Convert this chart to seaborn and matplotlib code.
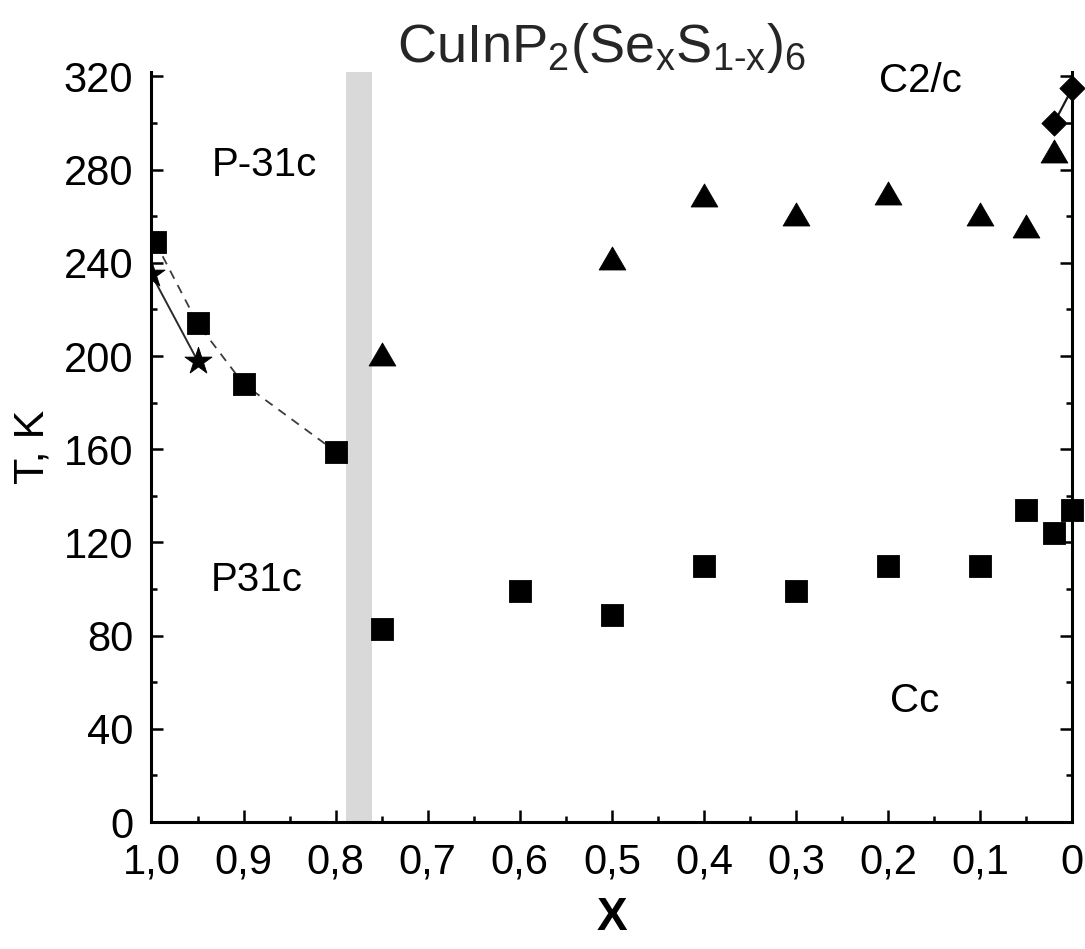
import numpy as np
import pandas as pd
import matplotlib
matplotlib.use("Agg")
import matplotlib.pyplot as plt
from matplotlib.markers import MarkerStyle
from matplotlib.path import Path
import seaborn as sns

# ---- data -------------------------------------------------------------
# P-31c -> P31c boundary (Se-rich side), squares joined by a dashed guide
x_sq_rich = [0.996, 0.95, 0.90, 0.80]
t_sq_rich = [249, 214, 188, 159]

# second estimate of the same boundary (stars, solid guide)
x_star = [1.0, 0.95]
t_star = [235, 198]

# C2/c -> Cc transition (triangles)
x_tri = [0.75, 0.50, 0.40, 0.30, 0.20, 0.10, 0.05, 0.02]
t_tri = [201, 242, 269, 261, 270, 261, 256, 288]

# low-temperature anomalies (squares, S-rich side)
x_sq_low = [0.75, 0.60, 0.50, 0.40, 0.30, 0.20, 0.10, 0.05, 0.02, 0.0]
t_sq_low = [83, 99, 89, 110, 99, 110, 110, 134, 124, 134]

# CuInP2S6 end member (diamonds, solid guide)
x_dia = [0.02, 0.0]
t_dia = [300, 315]

# two-phase region between the structures
band_x = [0.789, 0.761]

x_ticks = [1.0, 0.9, 0.8, 0.7, 0.6, 0.5, 0.4, 0.3, 0.2, 0.1, 0.0]
x_tick_labels = ["1,0", "0,9", "0,8", "0,7", "0,6", "0,5", "0,4", "0,3", "0,2", "0,1", "0"]
y_ticks = [0, 40, 80, 120, 160, 200, 240, 280, 320]

phase_labels = ["P-31c", "P31c", "C2/c", "Cc"]
phase_pos = [(0.877, 282), (0.886, 104), (0.165, 318), (0.171, 52)]

# ---- style ------------------------------------------------------------
sns.set_theme(style="ticks")
plt.rcParams["font.family"] = ["Liberation Sans", "DejaVu Sans"]
plt.rcParams["mathtext.fontset"] = "custom"
plt.rcParams["mathtext.rm"] = "Liberation Sans"
plt.rcParams["mathtext.default"] = "regular"

fig = plt.figure(figsize=(10.85, 9.49), dpi=100)
ax = fig.add_axes([0.1396, 0.1338, 0.8488, 0.7906])

ax.axvspan(band_x[0], band_x[1], color="#d9d9d9", lw=0, zorder=0)

# guide lines
sns.lineplot(x=x_sq_rich, y=t_sq_rich, ax=ax, sort=False, estimator=None,
             color="#3c3c3c", lw=1.3, linestyle=(0, (5, 4)), legend=False, zorder=1)
sns.lineplot(x=x_star, y=t_star, ax=ax, sort=False, estimator=None,
             color="#2a2a2a", lw=1.4, legend=False, zorder=1)
sns.lineplot(x=x_dia, y=t_dia, ax=ax, sort=False, estimator=None,
             color="#1a1a1a", lw=1.6, legend=False, zorder=1, clip_on=False)

# markers
tri_marker = MarkerStyle(Path([(-1, -0.86), (1, -0.86), (0, 0.86), (-1, -0.86)],
                              [Path.MOVETO, Path.LINETO, Path.LINETO, Path.CLOSEPOLY]))

sns.scatterplot(x=x_sq_rich, y=t_sq_rich, ax=ax, marker="s", s=235,
                color="black", edgecolor="black", linewidth=0.6, zorder=3)
sns.scatterplot(x=x_star, y=t_star, ax=ax, marker="*", s=420,
                color="black", edgecolor="black", linewidth=0.6, zorder=3)
sns.scatterplot(x=x_tri, y=t_tri, ax=ax, marker=tri_marker, s=370,
                color="black", edgecolor="black", linewidth=0.6, zorder=3,
                clip_on=False)
sns.scatterplot(x=x_sq_low, y=t_sq_low, ax=ax, marker="s", s=235,
                color="black", edgecolor="black", linewidth=0.6, zorder=3,
                clip_on=False)
sns.scatterplot(x=x_dia, y=t_dia, ax=ax, marker="D", s=165,
                color="black", edgecolor="black", linewidth=0.6, zorder=4,
                clip_on=False)

# ---- axes -------------------------------------------------------------
ax.set_xlim(1.0, 0.0)
ax.set_ylim(0, 322)
ax.set_xticks(x_ticks)
ax.set_xticklabels(x_tick_labels)
ax.set_xticks(np.arange(0.05, 1.0, 0.1), minor=True)
ax.set_yticks(y_ticks)
ax.set_yticks(np.arange(20, 321, 40), minor=True)

for side in ["left", "bottom", "right"]:
    ax.spines[side].set_visible(True)
    ax.spines[side].set_linewidth(2.2)
    ax.spines[side].set_color("black")
ax.spines["top"].set_visible(False)

ax.tick_params(axis="both", which="major", direction="in", length=8.5,
               width=1.8, color="black", labelsize=30, labelcolor="black")
ax.tick_params(axis="both", which="minor", direction="in", length=4.5,
               width=1.8, color="black")
ax.tick_params(axis="y", which="both", left=True, right=True, labelright=False)
ax.tick_params(axis="x", which="both", top=False, bottom=True)
ax.tick_params(axis="x", which="major", pad=15)
ax.tick_params(axis="y", which="major", pad=13)

ax.set_xlabel("X", fontsize=33, fontweight="bold", color="black")
ax.xaxis.set_label_coords(0.5, -0.098)
ax.set_ylabel("T, K", fontsize=31, color="black")
ax.yaxis.set_label_coords(-0.108, 0.5)

for label, (px, py) in zip(phase_labels, phase_pos):
    ax.text(px, py, label, fontsize=29, ha="center", va="center", color="black")

fig.text(0.554, 0.9347, r"CuInP$_2$(Se$_x$S$_{1\text{-}x}$)$_6$", fontsize=39,
         ha="center", va="baseline", color="#262626")

fig.savefig("out.png", dpi=100, facecolor="white")
